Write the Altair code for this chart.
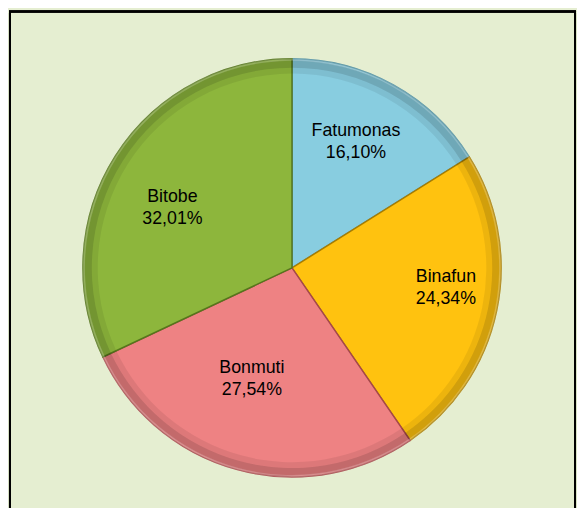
import altair as alt
import pandas as pd

categories = ["Fatumonas", "Binafun", "Bonmuti", "Bitobe"]
values = [16.10, 24.34, 27.54, 32.01]
colors = ["#88CDE0", "#FFC20F", "#EE8283", "#8DB63C"]
edge_colors = ["#4F8FA0", "#A87D00", "#A5484A", "#56761C"]

df = pd.DataFrame({"cat": categories, "v": values, "ord": list(range(len(categories)))})

W, H = 577, 500
CX, CY = 288, 260
R = 212

base = alt.Chart(df).encode(
    theta=alt.Theta("v:Q", stack=True),
    order=alt.Order("ord:Q"),
    x=alt.value(CX),
    y=alt.value(CY),
)

color_scale = alt.Scale(domain=categories, range=colors)
edge_scale = alt.Scale(domain=categories, range=edge_colors)

pie = base.mark_arc(outerRadius=R, strokeWidth=1.5).encode(
    color=alt.Color("cat:N", scale=color_scale, legend=None),
    stroke=alt.Stroke("cat:N", scale=edge_scale, legend=None),
)

rim_dark = base.mark_arc(outerRadius=R - 1, innerRadius=R - 9, fill="black", fillOpacity=0.18)
rim_mid = base.mark_arc(outerRadius=R - 9, innerRadius=R - 15, fill="black", fillOpacity=0.07)
rim_light = base.mark_arc(outerRadius=R + 0.5, innerRadius=R - 2, fill="white", fillOpacity=0.2)

# fine label nudges (Excel "best fit" placement)
nudges = {"Fatumonas": (-3, -16), "Binafun": (19, -19), "Bonmuti": (-4, -33), "Bitobe": (-3, 3)}

label_layers = []
for cat in categories:
    ddx, ddy = nudges[cat]
    label_layers.append(
        base.transform_calculate(
            label="datum.cat + '\\n' + replace(format(datum.v, '.2f'), '.', ',') + '%'"
        ).mark_text(
            radius=140, font="Liberation Sans", fontSize=18, lineBreak="\n",
            lineHeight=22, color="black", align="center", baseline="middle",
            dx=ddx, dy=ddy,
        ).encode(
            text="label:N",
            opacity=alt.condition(alt.datum.cat == cat, alt.value(1), alt.value(0)),
        )
    )

frame = alt.Chart(df).mark_rect(fill=None, stroke="black", strokeWidth=2).encode(
    x=alt.value(2), x2=alt.value(575), y=alt.value(0), y2=alt.value(520)
)

chart = alt.layer(frame, pie, rim_dark, rim_mid, rim_light, *label_layers).properties(
    width=W, height=H,
    autosize=alt.AutoSizeParams(type="none"),
    padding=0,
    background="#E5EED1",
).configure_view(stroke=None)

chart.save("out.html", embed_options={"renderer": "svg", "actions": False})
